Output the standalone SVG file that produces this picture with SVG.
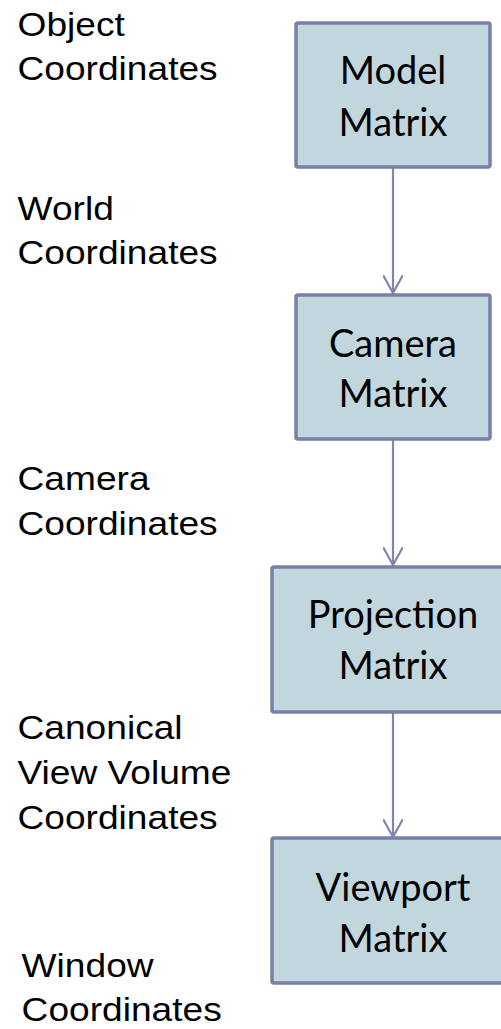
<svg xmlns="http://www.w3.org/2000/svg" width="501" height="1029" viewBox="0 0 501 1029">
<defs>
<style>
.box{fill:#c2d6dd;stroke:#7880a8;stroke-width:3.5}
.bt{font-family:Lato,"Open Sans",sans-serif;font-size:38px;fill:#000;text-anchor:middle}
.lt{font-family:"Liberation Sans",Arial,sans-serif;font-size:33px;fill:#000}
.con{stroke:#7f87ae;stroke-width:2.2;fill:none}
</style>
<marker id="arr" viewBox="0 0 20 20" refX="18" refY="10" markerWidth="20" markerHeight="20" markerUnits="userSpaceOnUse" orient="auto">
<path d="M0,0 L18,10 L0,20" fill="none" stroke="#7f87ae" stroke-width="2.2"/>
</marker>
</defs>
<rect width="501" height="1029" fill="#fff"/>
<g id="connectors">
<line class="con" x1="393" y1="167" x2="393" y2="293" marker-end="url(#arr)"/>
<line class="con" x1="393" y1="440" x2="393" y2="565" marker-end="url(#arr)"/>
<line class="con" x1="393" y1="712" x2="393" y2="837" marker-end="url(#arr)"/>
</g>
<g id="model">
<rect class="box" x="296" y="23" width="194" height="144" rx="2"/>
<text class="bt" x="393" y="84">Model</text>
<text class="bt" x="393" y="136">Matrix</text>
</g>
<g id="camera">
<rect class="box" x="296" y="295" width="194" height="144" rx="2"/>
<text class="bt" x="393" y="357">Camera</text>
<text class="bt" x="393" y="407">Matrix</text>
</g>
<g id="projection">
<rect class="box" x="272" y="567" width="242" height="145" rx="2"/>
<text class="bt" x="393" y="628">Projection</text>
<text class="bt" x="393" y="679">Matrix</text>
</g>
<g id="viewport">
<rect class="box" x="272" y="838" width="242" height="145" rx="2"/>
<text class="bt" x="393" y="901">Viewport</text>
<text class="bt" x="393" y="952">Matrix</text>
</g>
<g id="labels" transform="scale(1.125 1)">
<text class="lt" x="15.6" y="36">Object</text>
<text class="lt" x="15.6" y="80">Coordinates</text>
<text class="lt" x="15.6" y="220">World</text>
<text class="lt" x="15.6" y="264">Coordinates</text>
<text class="lt" x="15.6" y="490">Camera</text>
<text class="lt" x="15.6" y="535">Coordinates</text>
<text class="lt" x="15.6" y="739">Canonical</text>
<text class="lt" x="15.6" y="784">View Volume</text>
<text class="lt" x="15.6" y="829">Coordinates</text>
<text class="lt" x="19.2" y="977">Window</text>
<text class="lt" x="19.2" y="1021">Coordinates</text>
</g>
</svg>
